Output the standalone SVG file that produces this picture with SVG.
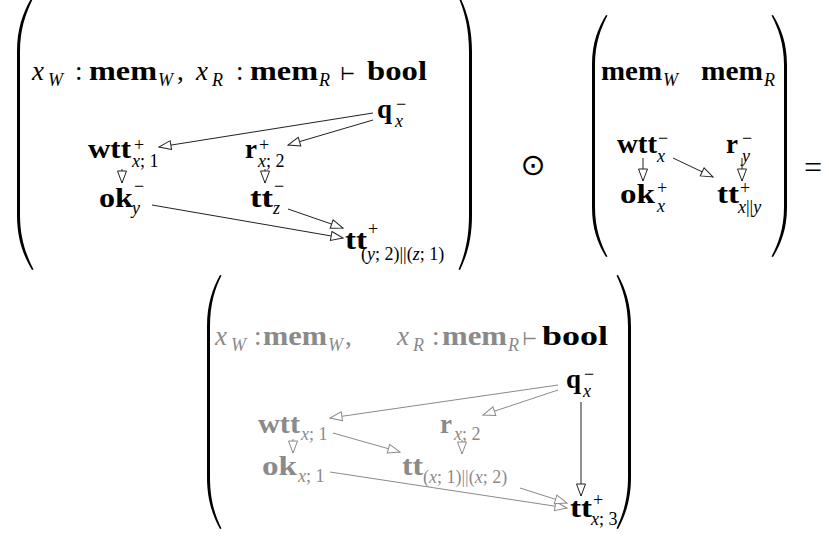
<svg xmlns="http://www.w3.org/2000/svg" width="829" height="536" viewBox="0 0 829 536">
<defs>
<style>
text{font-family:"Liberation Serif","DejaVu Serif",serif;font-size:27px;}
.b{font-weight:bold;}
.i{font-style:italic;font-weight:normal;}
.r{font-weight:normal;font-style:normal;}
.s{font-size:18px;font-weight:normal;font-style:normal;}
.si{font-size:18px;font-weight:normal;font-style:italic;}
.g{fill:#8a8a8a;}
.k{fill:#000;}
.e{fill:none;stroke:#222;stroke-width:1;marker-end:url(#ah);}
.eg{fill:none;stroke:#8a8a8a;stroke-width:1;marker-end:url(#ahg);}
.par{fill:#000;}
</style>
<marker id="ah" viewBox="0 0 14 12" refX="13" refY="6" markerWidth="14" markerHeight="12" markerUnits="userSpaceOnUse" orient="auto">
<path d="M1,1.5 L13,6 L1,10.5 Z" fill="#fff" stroke="#222" stroke-width="1"/>
</marker>
<marker id="ahg" viewBox="0 0 14 12" refX="13" refY="6" markerWidth="14" markerHeight="12" markerUnits="userSpaceOnUse" orient="auto">
<path d="M1,1.5 L13,6 L1,10.5 Z" fill="#fff" stroke="#8a8a8a" stroke-width="1"/>
</marker>
</defs>
<rect width="829" height="536" fill="#fff"/>

<!-- Panel 1 -->
<g id="panel1-parens">
<path class="par" d="M32,-3 C23.8,10.8 17,27.3 17,52 L17,215 C17,239.8 23.8,256.3 32,270 L33.5,269.5 C26.5,255.5 20,239 20,215 L20,52 C20,28 26.5,11.5 33.5,-2.5 Z"/>
<path class="par" d="M460,-3 C466.6,10.8 472,27.3 472,52 L472,215 C472,239.8 466.6,256.3 460,270 L458.5,269.5 C464.5,255.5 469,239 469,215 L469,52 C469,28 464.5,11.5 458.5,-2.5 Z"/>
</g>
<g id="p1-header">
<text x="32" y="80"><tspan class="i">x</tspan><tspan class="si" x="48" y="86">W</tspan><tspan class="r" x="75" y="80">:</tspan><tspan class="b" x="89" y="80" textLength="68" lengthAdjust="spacingAndGlyphs">mem</tspan><tspan class="si" x="158" y="86">W</tspan><tspan class="r" x="177" y="80">,</tspan><tspan class="i" x="196" y="80">x</tspan><tspan class="si" x="212" y="86">R</tspan><tspan class="r" x="236" y="80">:</tspan><tspan class="b" x="250" y="80" textLength="68" lengthAdjust="spacingAndGlyphs">mem</tspan><tspan class="si" x="319" y="86">R</tspan><tspan class="s" x="340" y="80">⊢</tspan><tspan class="b" x="367" y="80" textLength="60" lengthAdjust="spacingAndGlyphs">bool</tspan></text>
</g>
<g id="p1-q">
<text x="377" y="118"><tspan class="b">q</tspan><tspan class="s" x="396" y="110">−</tspan><tspan class="si" x="395" y="127">x</tspan></text>
</g>
<g id="p1-wtt">
<text x="88" y="158"><tspan class="b" textLength="43" lengthAdjust="spacingAndGlyphs">wtt</tspan><tspan class="s" x="134" y="151">+</tspan><tspan class="si" x="132" y="167">x</tspan><tspan class="s">; 1</tspan></text>
</g>
<g id="p1-r">
<text x="245" y="158"><tspan class="b">r</tspan><tspan class="s" x="259" y="151">+</tspan><tspan class="si" x="258" y="167">x</tspan><tspan class="s">; 2</tspan></text>
</g>
<g id="p1-ok">
<text x="99" y="207"><tspan class="b" textLength="34" lengthAdjust="spacingAndGlyphs">ok</tspan><tspan class="s" x="134" y="192">−</tspan><tspan class="si" x="132" y="214">y</tspan></text>
</g>
<g id="p1-ttz">
<text x="250" y="207"><tspan class="b" textLength="23" lengthAdjust="spacingAndGlyphs">tt</tspan><tspan class="s" x="274" y="192">−</tspan><tspan class="si" x="273" y="214">z</tspan></text>
</g>
<g id="p1-tt">
<text x="345" y="249"><tspan class="b" textLength="22" lengthAdjust="spacingAndGlyphs">tt</tspan><tspan class="s" x="368" y="235">+</tspan><tspan class="s" x="361" y="260">(</tspan><tspan class="si">y</tspan><tspan class="s">; 2)||(</tspan><tspan class="si">z</tspan><tspan class="s">; 1)</tspan></text>
</g>

<!-- Panel 2 -->
<g id="odot"><text x="533" y="175" text-anchor="middle" style="font-family:'DejaVu Sans',sans-serif;font-size:30px">⊙</text></g>
<g id="panel2-parens">
<path class="par" d="M606,15 C598.3,27.5 592,42.5 592,65 L592,207 C592,229.5 598.3,244.5 606,257 L607.5,256.5 C601,244 595,229 595,207 L595,65 C595,43 601,28 607.5,15.5 Z"/>
<path class="par" d="M773,15 C780.7,27.5 787,42.5 787,65 L787,207 C787,229.5 780.7,244.5 773,257 L771.5,256.5 C778,244 784,229 784,207 L784,65 C784,43 778,28 771.5,15.5 Z"/>
</g>
<g id="p2-header">
<text x="601" y="80"><tspan class="b" textLength="61" lengthAdjust="spacingAndGlyphs">mem</tspan><tspan class="si" x="663" y="86">W</tspan><tspan class="b" x="701" y="80" textLength="62" lengthAdjust="spacingAndGlyphs">mem</tspan><tspan class="si" x="764" y="86">R</tspan></text>
</g>
<g id="p2-wtt">
<text x="617" y="153"><tspan class="b" textLength="40" lengthAdjust="spacingAndGlyphs">wtt</tspan><tspan class="s" x="658" y="144">−</tspan><tspan class="si" x="657" y="162">x</tspan></text>
</g>
<g id="p2-r">
<text x="726" y="153"><tspan class="b">r</tspan><tspan class="s" x="742" y="144">−</tspan><tspan class="si" x="742" y="162">y</tspan></text>
</g>
<g id="p2-ok">
<text x="620" y="203"><tspan class="b" textLength="35" lengthAdjust="spacingAndGlyphs">ok</tspan><tspan class="s" x="657" y="194">+</tspan><tspan class="si" x="657" y="212">x</tspan></text>
</g>
<g id="p2-tt">
<text x="717" y="203"><tspan class="b" textLength="22" lengthAdjust="spacingAndGlyphs">tt</tspan><tspan class="s" x="740" y="194">+</tspan><tspan class="si" x="738" y="213">x</tspan><tspan class="s">||</tspan><tspan class="si">y</tspan></text>
</g>
<g id="equals"><text x="804" y="178" style="font-size:32px">=</text></g>

<!-- Panel 3 -->
<g id="panel3-parens">
<path class="par" d="M220,275 C212.9,288 207,303.6 207,327 L207,477 C207,500.4 212.9,516 220,529 L221.5,528.5 C215,515.5 210,500 210,477 L210,327 C210,304 215,288.5 221.5,275.5 Z"/>
<path class="par" d="M618,275 C625,288 631,303.6 631,327 L631,477 C631,500.4 625,516 618,529 L616.5,528.5 C622.5,515.5 628,500 628,477 L628,327 C628,304 622.5,288.5 616.5,275.5 Z"/>
</g>
<g id="p3-header">
<text x="215" y="345" class="g"><tspan class="i">x</tspan><tspan class="si" x="231" y="351">W</tspan><tspan class="r" x="254" y="345">:</tspan><tspan class="b" x="263" y="345" textLength="64" lengthAdjust="spacingAndGlyphs">mem</tspan><tspan class="si" x="328" y="351">W</tspan><tspan class="r" x="345" y="345">,</tspan><tspan class="i" x="397" y="345">x</tspan><tspan class="si" x="413" y="351">R</tspan><tspan class="r" x="432" y="345">:</tspan><tspan class="b" x="442" y="345" textLength="65" lengthAdjust="spacingAndGlyphs">mem</tspan><tspan class="si" x="508" y="351">R</tspan><tspan class="s" x="522" y="345">⊢</tspan><tspan class="b k" x="542" y="345" textLength="66" lengthAdjust="spacingAndGlyphs">bool</tspan></text>
</g>
<g id="p3-q">
<text x="566" y="388"><tspan class="b">q</tspan><tspan class="s" x="584" y="380">−</tspan><tspan class="si" x="583" y="397">x</tspan></text>
</g>
<g id="p3-wtt">
<text x="258" y="433" class="g"><tspan class="b" textLength="42" lengthAdjust="spacingAndGlyphs">wtt</tspan><tspan class="si" x="301" y="440">x</tspan><tspan class="s">; 1</tspan></text>
</g>
<g id="p3-r">
<text x="440" y="433" class="g"><tspan class="b">r</tspan><tspan class="si" x="454" y="440">x</tspan><tspan class="s">; 2</tspan></text>
</g>
<g id="p3-ok">
<text x="262" y="475" class="g"><tspan class="b" textLength="35" lengthAdjust="spacingAndGlyphs">ok</tspan><tspan class="si" x="298" y="482">x</tspan><tspan class="s">; 1</tspan></text>
</g>
<g id="p3-ttpar">
<text x="402" y="475" class="g"><tspan class="b" textLength="21" lengthAdjust="spacingAndGlyphs">tt</tspan><tspan class="s" x="423" y="483">(</tspan><tspan class="si">x</tspan><tspan class="s">; 1)||(</tspan><tspan class="si">x</tspan><tspan class="s">; 2)</tspan></text>
</g>
<g id="p3-tt">
<text x="570" y="517"><tspan class="b" textLength="22" lengthAdjust="spacingAndGlyphs">tt</tspan><tspan class="s" x="593" y="506">+</tspan><tspan class="si" x="591" y="525">x</tspan><tspan class="s">; 3</tspan></text>
</g>

<g id="connectors">
<line class="e" x1="373" y1="113" x2="159" y2="147"/>
<line class="e" x1="373" y1="120" x2="288" y2="145"/>
<line class="e" x1="122" y1="169" x2="122" y2="183"/>
<line class="e" x1="265" y1="169" x2="265" y2="183"/>
<line class="e" x1="152" y1="205" x2="343" y2="238"/>
<line class="e" x1="288" y1="209" x2="343" y2="228"/>
<line class="e" x1="643" y1="158" x2="643" y2="181"/>
<line class="e" x1="742" y1="158" x2="742" y2="181"/>
<line class="e" x1="673" y1="158" x2="713" y2="177"/>
<line class="eg" x1="558" y1="385" x2="330" y2="418"/>
<line class="eg" x1="558" y1="390" x2="483" y2="415"/>
<line class="e" x1="581" y1="402" x2="581" y2="496"/>
<line class="eg" x1="293" y1="439" x2="293" y2="453"/>
<line class="eg" x1="462" y1="440" x2="462" y2="454"/>
<line class="eg" x1="333" y1="433" x2="400" y2="452"/>
<line class="eg" x1="330" y1="472" x2="567" y2="508"/>
<line class="eg" x1="520" y1="488" x2="567" y2="503"/>
</g>
</svg>
